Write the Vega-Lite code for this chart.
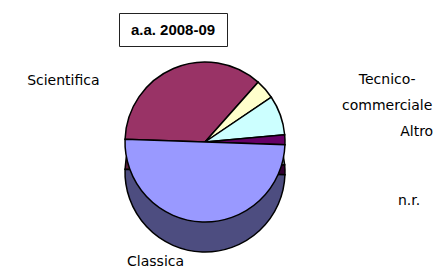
{
  "$schema": "https://vega.github.io/schema/vega-lite/v6.json",
  "padding": {"left": 0, "top": 12, "right": 0, "bottom": 0},
  "background": "white",
  "config": {"view": {"stroke": null}},
  "datasets": {
    "pie": [
      {"cat": "Scientifica", "v": 36},
      {"cat": "Tecnico-commerciale", "v": 4},
      {"cat": "Altro", "v": 8},
      {"cat": "n.r.", "v": 2},
      {"cat": "Classica", "v": 50}
    ]
  },
  "spacing": 0,
  "vconcat": [
    {
      "spacing": 0,
      "hconcat": [
        {
          "width": 118, "height": 33,
          "data": {"values": [{"t": ""}]},
          "mark": {"type": "text"},
          "encoding": {"text": {"field": "t"}}
        },
        {
          "width": 108, "height": 33,
          "view": {"stroke": "#222222", "strokeWidth": 1},
          "data": {"values": [{"t": "a.a. 2008-09"}]},
          "mark": {"type": "text", "font": "Liberation Sans", "fontWeight": "bold", "fontSize": 15, "color": "black"},
          "encoding": {"text": {"field": "t"}}
        }
      ]
    },
    {
      "width": 410, "height": 180,
      "data": {"name": "pie"},
      "transform": [{"window": [{"op": "row_number", "as": "idx"}]}],
      "resolve": {"scale": {"color": "independent"}},
      "encoding": {
        "theta": {"field": "v", "type": "quantitative", "stack": true, "scale": {"range": [4.747, 11.030]}},
        "order": {"field": "idx", "type": "quantitative", "sort": "ascending"}
      },
      "layer": [
        {
          "mark": {"type": "arc", "radius": 80, "yOffset": 30, "stroke": "black", "strokeWidth": 1.5},
          "encoding": {
            "color": {"field": "cat", "type": "nominal", "legend": null,
              "sort": ["Scientifica", "Tecnico-commerciale", "Altro", "n.r.", "Classica"],
              "scale": {"range": ["#5c1f3d", "#99997a", "#7a9999", "#330033", "#4d4d80"]}}
          }
        },
        {
          "mark": {"type": "arc", "radius": 80, "stroke": "black", "strokeWidth": 1.5},
          "encoding": {
            "color": {"field": "cat", "type": "nominal", "legend": null,
              "sort": ["Scientifica", "Tecnico-commerciale", "Altro", "n.r.", "Classica"],
              "scale": {"range": ["#993366", "#FFFFCC", "#CCFFFF", "#660066", "#9999FF"]}}
          }
        },
        {
          "mark": {"type": "text", "radius": 100, "dx": -66, "dy": 31, "align": "right", "font": "DejaVu Sans", "fontSize": 14},
          "encoding": {
            "color": {"field": "cat", "type": "nominal", "legend": null, "scale": {"range": ["#000000"]}},
            "text": {"condition": {"test": "datum.cat === 'Scientifica'", "field": "cat"}, "value": ""}
          }
        },
        {
          "mark": {"type": "text", "radius": 100, "dx": 107, "dy": -3, "align": "center", "baseline": "top", "lineHeight": 26, "font": "DejaVu Sans", "fontSize": 14},
          "encoding": {
            "color": {"field": "cat", "type": "nominal", "legend": null, "scale": {"range": ["#000000"]}},
            "text": {"condition": {"test": "datum.cat === 'Tecnico-commerciale'", "value": ["Tecnico-", "commerciale"]}, "value": ""}
          }
        },
        {
          "mark": {"type": "text", "radius": 100, "dx": 101, "dy": 24, "align": "left", "font": "DejaVu Sans", "fontSize": 14},
          "encoding": {
            "color": {"field": "cat", "type": "nominal", "legend": null, "scale": {"range": ["#000000"]}},
            "text": {"condition": {"test": "datum.cat === 'Altro'", "field": "cat"}, "value": ""}
          }
        },
        {
          "mark": {"type": "text", "radius": 100, "dx": 93, "dy": 62, "align": "left", "font": "DejaVu Sans", "fontSize": 14},
          "encoding": {
            "color": {"field": "cat", "type": "nominal", "legend": null, "scale": {"range": ["#000000"]}},
            "text": {"condition": {"test": "datum.cat === 'n.r.'", "field": "cat"}, "value": ""}
          }
        },
        {
          "mark": {"type": "text", "radius": 100, "dx": -46, "dy": 20, "align": "center", "font": "DejaVu Sans", "fontSize": 14},
          "encoding": {
            "color": {"field": "cat", "type": "nominal", "legend": null, "scale": {"range": ["#000000"]}},
            "text": {"condition": {"test": "datum.cat === 'Classica'", "field": "cat"}, "value": ""}
          }
        }
      ]
    }
  ]
}
